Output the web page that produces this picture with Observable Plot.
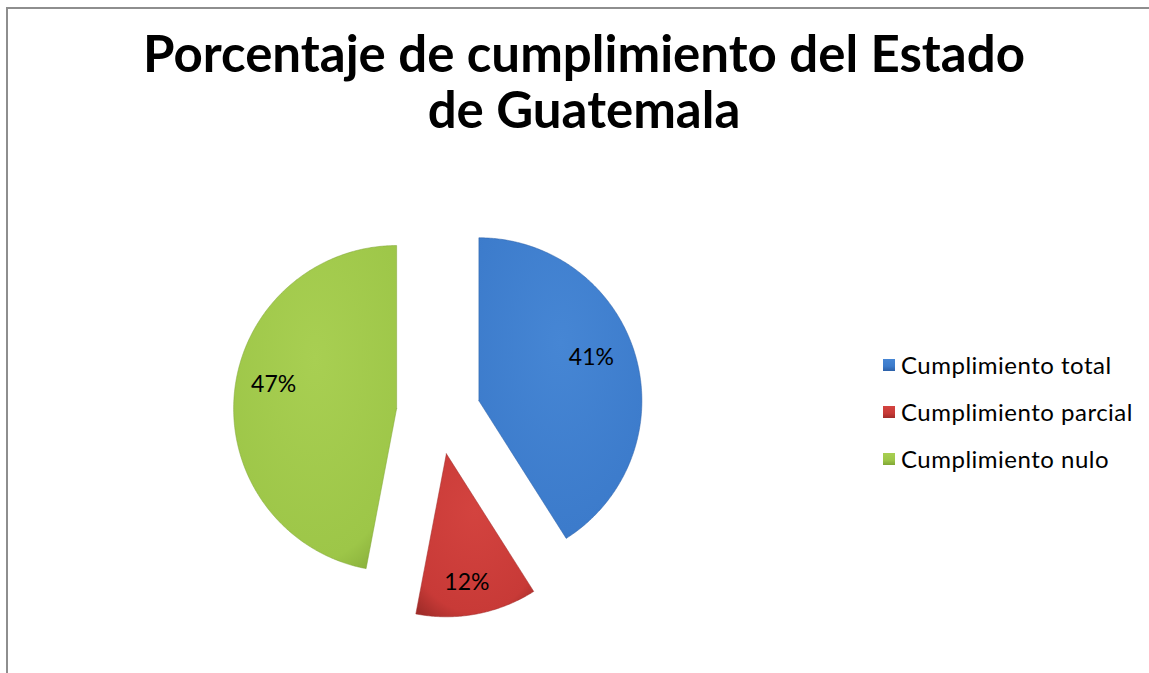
<!DOCTYPE html>
<html><head><meta charset="utf-8">
<script src="https://cdn.jsdelivr.net/npm/d3@7"></script>
<script src="https://cdn.jsdelivr.net/npm/@observablehq/plot@0.6"></script>
<style>
html,body{margin:0;padding:0;background:#fff;width:1149px;height:673px;overflow:hidden;position:relative;}
#frame{position:absolute;left:6px;top:7px;width:1200px;height:700px;border-left:2px solid #8e8e8e;border-top:2px solid #8e8e8e;}
.tl{position:absolute;left:0;width:1168px;text-align:center;font-family:Lato,"Open Sans",sans-serif;font-weight:bold;font-size:51px;line-height:51px;color:#000;white-space:nowrap}
#t1{top:27px}
#t2{top:83px}
#chart{position:absolute;left:0;top:150px;}
#legend{position:absolute;left:883px;top:341px;font-family:Lato,"Open Sans",sans-serif;font-size:24px;letter-spacing:0.5px;color:#000;}
.item{display:flex;align-items:center;height:47px;white-space:nowrap}
.sw{width:12px;height:12px;margin-right:6px;flex:none}
</style>
</head><body>
<div id="frame"></div>
<div class="tl" id="t1">Porcentaje de cumplimiento del Estado</div>
<div class="tl" id="t2">de Guatemala</div>
<div id="chart"></div>
<div id="legend"></div>
<script>
const categories = ["Cumplimiento total", "Cumplimiento parcial", "Cumplimiento nulo"];
const values = [41, 12, 47];
const labels = ["41%", "12%", "47%"];
const colors = ["#3c7bcb", "#c83a37", "#9dc648"];
const lightColors = ["#4686d4", "#d3433f", "#a8cf52"];
const darkColors = ["#2c60a8", "#a02c29", "#80a635"];
// per-label nudges (px) to follow the reference's best-fit label placement
const labelNudgeX = [-8, -3, 2];
const labelNudgeY = [-8, 6, -12];

const W = 800, H = 523, R = 163, CX = 438, CY = 262;
const EXPLODE = 0.258, LABEL_R = 0.77;

const arcs = d3.pie().sort(null).value(d => d)(values);
const wedges = [];
const labelPts = [];
arcs.forEach((a, i) => {
  const mid = (a.startAngle + a.endAngle) / 2;
  const ox = EXPLODE * Math.sin(mid), oy = EXPLODE * Math.cos(mid);
  const pts = [{x: ox, y: oy}];
  const n = Math.max(2, Math.ceil((a.endAngle - a.startAngle) / 0.01));
  for (let k = 0; k <= n; k++) {
    const t = a.startAngle + (a.endAngle - a.startAngle) * k / n;
    pts.push({x: ox + Math.sin(t), y: oy + Math.cos(t)});
  }
  pts.push({x: ox, y: oy});
  wedges.push(pts.map(p => ({...p, cat: categories[i]})));
  labelPts.push({x: ox + LABEL_R * Math.sin(mid), y: oy + LABEL_R * Math.cos(mid), text: labels[i]});
});

const svg = Plot.plot({
  width: W, height: H, margin: 0,
  style: {fontFamily: "Lato, 'Open Sans', sans-serif", background: "transparent"},
  x: {domain: [-CX / R, (W - CX) / R], axis: null},
  y: {domain: [-(H - CY) / R, CY / R], axis: null},
  marks: [
    ...wedges.map((w, i) => Plot.line(w, {x: "x", y: "y", fill: `url(#g${i})`, stroke: darkColors[i], strokeWidth: 1, strokeOpacity: 0.5})),
    ...labelPts.map((p, i) => Plot.text([p], {x: "x", y: "y", text: "text", fontSize: 23, fill: "#000", dx: labelNudgeX[i], dy: labelNudgeY[i]}))
  ]
});

const ns = "http://www.w3.org/2000/svg";
const defs = document.createElementNS(ns, "defs");
colors.forEach((c, i) => {
  const g = document.createElementNS(ns, "radialGradient");
  g.setAttribute("id", "g" + i);
  g.setAttribute("cx", "50%"); g.setAttribute("cy", "35%"); g.setAttribute("r", "78%");
  [[0, lightColors[i]], [0.8, c], [1, darkColors[i]]].forEach(([o, col]) => {
    const s = document.createElementNS(ns, "stop");
    s.setAttribute("offset", o); s.setAttribute("stop-color", col);
    g.appendChild(s);
  });
  defs.appendChild(g);
});
svg.insertBefore(defs, svg.firstChild);
document.getElementById("chart").appendChild(svg);

const legend = document.getElementById("legend");
categories.forEach((c, i) => {
  const item = document.createElement("div");
  item.className = "item";
  const sw = document.createElement("div");
  sw.className = "sw";
  sw.style.background = `linear-gradient(180deg, ${lightColors[i]}, ${colors[i]} 60%, ${darkColors[i]})`;
  item.appendChild(sw);
  item.appendChild(document.createTextNode(c));
  legend.appendChild(item);
});
</script>
</body></html>
